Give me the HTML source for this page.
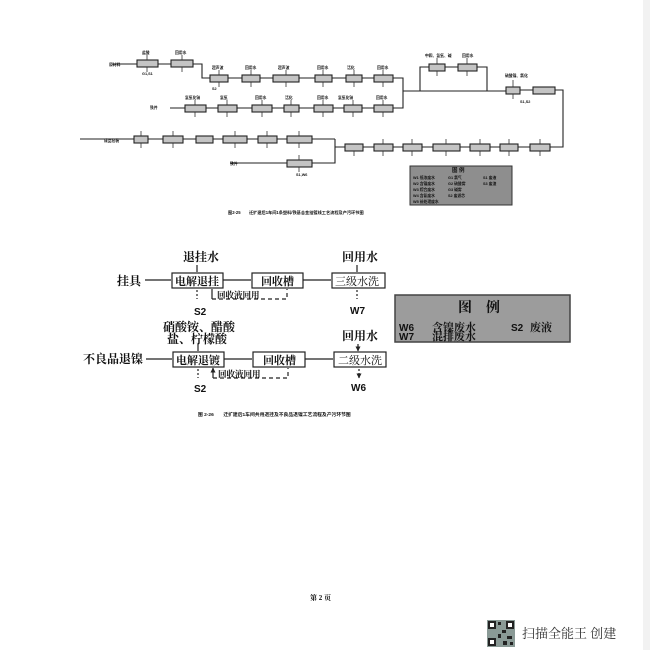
<!DOCTYPE html>
<html><head><meta charset="utf-8"><style>
html,body{margin:0;padding:0;background:#fff;width:650px;height:650px;overflow:hidden}
svg{display:block}
.t{font-family:"Liberation Serif","Noto Serif CJK SC",serif;font-weight:bold;fill:#111}
.s{font-family:"Liberation Sans","Noto Sans CJK SC",sans-serif;font-weight:bold;fill:#111}
</style></head><body>
<svg width="650" height="650" viewBox="0 0 650 650" xmlns="http://www.w3.org/2000/svg">
<defs><marker id="a" markerUnits="userSpaceOnUse" markerWidth="5" markerHeight="5" refX="4.5" refY="2.5" orient="auto"><path d="M0,0 L5,2.5 L0,5z" fill="#222"/></marker></defs>
<rect x="643" y="0" width="7" height="650" fill="#f2f2f2"/>
<!-- TOP DIAGRAM -->
<g stroke="#222" stroke-width="1.1" fill="none">
<path d="M112,64 H137 M158,64 H171 M193,64 H202 V78 H210 M228,78 H242 M260,78 H273 M299,78 H315 M332,78 H346 M362,78 H374 M393,78 H403 V108 H393 M374,108 H362 M344,108 H333 M314,108 H299 M284,108 H272 M252,108 H237 M218,108 H206 M185,108 H170"/>
<path d="M403,91 H506 M420,91 V67 H429 M445,67 H458 M477,67 H487 V91 M520,90 H533 M555,90 H563 V147 H550 M530,147 H518 M500,147 H490 M470,147 H460 M433,147 H422 M403,147 H393 M374,147 H363 M345,147 H335 V139 M335,147 V163 H312"/>
<path d="M80,139 H134 M148,139 H163 M183,139 H196 M213,139 H223 M247,139 H258 M277,139 H287 M312,139 H335 M230,163 H287"/>
</g>
<g fill="#c4c4c4" stroke="#222" stroke-width="1.1">
<rect x="137" y="60" width="21" height="7"/><rect x="171" y="60" width="22" height="7"/>
<rect x="210" y="75" width="18" height="7"/><rect x="242" y="75" width="18" height="7"/><rect x="273" y="75" width="26" height="7"/><rect x="315" y="75" width="17" height="7"/><rect x="346" y="75" width="16" height="7"/><rect x="374" y="75" width="19" height="7"/>
<rect x="185" y="105" width="21" height="7"/><rect x="218" y="105" width="19" height="7"/><rect x="252" y="105" width="20" height="7"/><rect x="284" y="105" width="15" height="7"/><rect x="314" y="105" width="19" height="7"/><rect x="344" y="105" width="18" height="7"/><rect x="374" y="105" width="19" height="7"/>
<rect x="429" y="64" width="16" height="7"/><rect x="458" y="64" width="19" height="7"/>
<rect x="506" y="87" width="14" height="7"/><rect x="533" y="87" width="22" height="7"/>
<rect x="530" y="144" width="20" height="7"/><rect x="500" y="144" width="18" height="7"/><rect x="470" y="144" width="20" height="7"/><rect x="433" y="144" width="27" height="7"/><rect x="403" y="144" width="19" height="7"/><rect x="374" y="144" width="19" height="7"/><rect x="345" y="144" width="18" height="7"/>
<rect x="134" y="136" width="14" height="7"/><rect x="163" y="136" width="20" height="7"/><rect x="196" y="136" width="17" height="7"/><rect x="223" y="136" width="24" height="7"/><rect x="258" y="136" width="19" height="7"/><rect x="287" y="136" width="25" height="7"/><rect x="287" y="160" width="25" height="7"/>
</g>
<g stroke="#333" stroke-width="0.8">
<path d="M147,55V60 M182,55V60 M219,70V75 M251,70V75 M286,70V75 M323,70V75 M354,70V75 M383,70V75 M195,100V105 M227,100V105 M262,100V105 M291,100V105 M323,100V105 M353,100V105 M383,100V105 M437,58V64 M467,58V64 M513,80V87 M540,139V144 M509,139V144 M480,139V144 M446,139V144 M412,139V144 M383,139V144 M141,131V136 M173,131V136 M235,131V136 M267,131V136 M299,131V136 M299,155V160"/>
<path d="M147,67V72 M182,67V72 M219,82V87 M251,82V87 M286,82V87 M323,82V87 M354,82V87 M383,82V87 M195,112V117 M227,112V117 M262,112V117 M291,112V117 M323,112V117 M353,112V117 M383,112V117 M437,71V76 M467,71V76 M513,94V99 M540,151V156 M509,151V156 M480,151V156 M446,151V156 M412,151V156 M383,151V156 M354,151V156 M141,143V148 M173,143V148 M235,143V148 M267,143V148 M299,143V148 M299,167V172"/>
</g>
<g class="s" font-size="3.8" fill="#111">
<text x="142" y="54">盐酸</text><text x="175" y="54">回用水</text><text x="212" y="69">超声波</text><text x="245" y="69">回用水</text><text x="278" y="69">超声波</text><text x="317" y="69">回用水</text><text x="347" y="69">活化</text><text x="377" y="69">回用水</text>
<text x="185" y="99">氢氧化钠</text><text x="220" y="99">氢氧</text><text x="255" y="99">回用水</text><text x="285" y="99">活化</text><text x="317" y="99">回用水</text><text x="338" y="99">氢氧化钠</text><text x="376" y="99">回用水</text>
<text x="425" y="57">中和、氢氧、碱</text><text x="462" y="57">回用水</text><text x="505" y="77">硫酸镍、氯化</text>
<text x="109" y="66">原材料</text><text x="150" y="109">铁件</text><text x="104" y="142">成品包装</text><text x="230" y="165">铁件</text>
<text x="142" y="75">G1,S1</text><text x="212" y="90">S2</text><text x="520" y="103">S1,S2</text><text x="296" y="176">S1,W6</text>
</g>
<rect x="410" y="166" width="102" height="39" fill="#8e8e8e" stroke="#333" stroke-width="1"/>
<g class="s" font-size="3.8" fill="#111">
<text x="452" y="172" font-size="5.5">图 例</text>
<text x="413" y="179">W1 低浓废水</text><text x="413" y="185">W2 含镍废水</text><text x="413" y="191">W3 综合废水</text><text x="413" y="197">W4 含氰废水</text><text x="413" y="203">W5 前处理废水</text>
<text x="448" y="179">G1 氯气</text><text x="448" y="185">G2 硫酸雾</text><text x="448" y="191">G3 碱雾</text><text x="448" y="197">S2 废滤芯</text>
<text x="483" y="179">S1 废液</text><text x="483" y="185">S3 废渣</text>
</g>
<text class="s" x="228" y="214" font-size="4.2">图2-25　　迁扩建后1车间1条塑料/铁基合金挂镀线工艺流程及产污环节图</text>

<!-- MIDDLE DIAGRAM -->
<g stroke="#222" stroke-width="1.2" fill="none">
<rect x="172" y="273" width="51" height="15"/><rect x="252" y="273" width="51" height="15"/><rect x="332" y="273" width="53" height="15"/>
<rect x="173" y="352" width="51" height="15"/><rect x="253" y="352" width="52" height="15"/><rect x="334" y="352" width="52" height="15"/>
<path d="M145,280 H171 M223,280 H251 M303,280 H331 M197,265 V272 M357,265 V272 M146,359 H172 M224,359 H252 M305,359 H333 M198,344 V351 M358,344 V351" marker-end="url(#a)"/>
<path d="M197,290 V299 M357,290 V299 M198,369 V378 M359,369 V378" stroke-dasharray="2,2" marker-end="url(#a)"/>
<path d="M212,299 H287 V289 M213,378 H288 V368" stroke-dasharray="4,3"/>
<path d="M212,299 V289 M213,378 V368" marker-end="url(#a)"/>
</g>
<g class="t" font-size="12">
<text x="183" y="261">退挂水</text><text x="342" y="261">回用水</text><text x="117" y="285">挂具</text>
<text x="83" y="363">不良品退镍</text>
<text x="163" y="331">硝酸铵、醋酸</text><text x="167" y="343">盐、柠檬酸</text><text x="342" y="340">回用水</text>
</g>
<g class="t" font-size="11">
<text x="175" y="285">电解退挂</text><text x="261" y="285">回收槽</text><text x="335" y="285" font-weight="normal">三级水洗</text>
<text x="176" y="364">电解退镀</text><text x="263" y="364">回收槽</text><text x="338" y="364" font-weight="normal">二级水洗</text>
</g>
<g class="t" font-size="8.5"><text x="217" y="298">回收液回用</text><text x="218" y="377">回收液回用</text></g>
<g class="s" font-size="10"><text x="194" y="315">S2</text><text x="350" y="314">W7</text><text x="194" y="392">S2</text><text x="351" y="391">W6</text></g>
<rect x="395" y="295" width="175" height="47" fill="#9c9c9c" stroke="#444" stroke-width="1.5"/>
<text class="t" x="458" y="312" font-size="14">图　例</text>
<g class="s" font-size="10"><text x="399" y="331">W6</text><text x="399" y="340">W7</text><text x="511" y="331">S2</text></g>
<g class="t" font-size="11"><text x="432" y="331">含镍废水</text><text x="432" y="340">混排废水</text><text x="530" y="331">废液</text></g>
<text class="s" x="198" y="416" font-size="4.8">图 2-26　　迁扩建后1车间共用退挂及不良品退镍工艺流程及产污环节图</text>

<text class="t" x="310" y="600" font-size="7">第 2 页</text>
<g fill="#222">
<rect x="487" y="620" width="28" height="27" fill="#8a9a96"/>
<rect x="488" y="621" width="8" height="8"/><rect x="506" y="621" width="8" height="8"/><rect x="488" y="638" width="8" height="8"/>
<rect x="490" y="623" width="4" height="4" fill="#fff"/><rect x="508" y="623" width="4" height="4" fill="#fff"/><rect x="490" y="640" width="4" height="4" fill="#fff"/>
<rect x="498" y="622" width="3" height="3"/><rect x="502" y="630" width="4" height="3"/><rect x="498" y="634" width="3" height="4"/><rect x="507" y="636" width="5" height="3"/><rect x="503" y="641" width="4" height="4"/><rect x="510" y="642" width="3" height="3"/>
</g>
<text x="522" y="638" font-size="13" font-family="Liberation Serif,'Noto Serif CJK SC',serif" fill="#333">扫描全能王 创建</text>
</svg>
</body></html>
